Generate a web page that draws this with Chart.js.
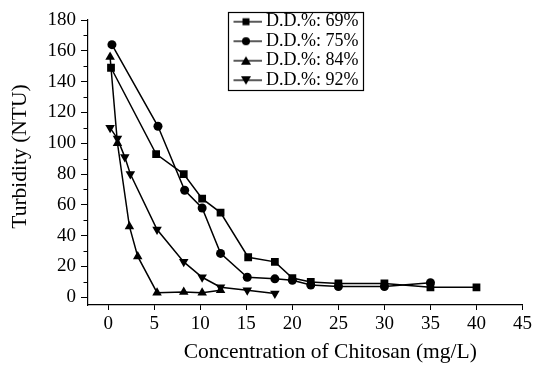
<!DOCTYPE html>
<html>
<head>
<meta charset="utf-8">
<script src="https://cdn.jsdelivr.net/npm/chart.js@4/dist/chart.umd.min.js"></script>
<style>
html,body{margin:0;padding:0;background:#fff;}
#wrap{width:535px;height:368px;}
</style>
</head>
<body>
<div id="wrap"><canvas id="c" width="535" height="368"></canvas></div>
<script>
// ---- data ----
const seriesLabels = ['D.D.%: 69%', 'D.D.%: 75%', 'D.D.%: 84%', 'D.D.%: 92%'];
const x69 = [0.3, 5.2, 8.2, 10.2, 12.2, 15.2, 18.1, 20, 22, 25, 30, 35, 40];
const y69 = [149, 93, 80, 64, 55, 26, 23, 12.5, 10, 9, 9, 6.5, 6.5];
const x75 = [0.4, 5.4, 8.3, 10.2, 12.2, 15.1, 18.1, 20, 22, 25, 30, 35];
const y75 = [164, 111, 69.5, 58, 28.5, 13, 12, 11, 8, 7, 7, 9.5];
const x84 = [0.2, 1, 2.3, 3.2, 5.3, 8.2, 10.2, 12.2];
const y84 = [156, 100, 46, 26.5, 3, 3.5, 3, 4.5];
const x92 = [0.2, 1, 1.8, 2.4, 5.3, 8.2, 10.2, 12.2, 15.1, 18.1];
const y92 = [110, 103, 91, 80, 44, 23, 13, 6.5, 4.5, 2.5];
const xTicks = [0, 5, 10, 15, 20, 25, 30, 35, 40, 45];
const yTicks = [0, 20, 40, 60, 80, 100, 120, 140, 160, 180];
const yMinorTicks = [10, 30, 50, 70, 90, 110, 130, 150, 170];
const xTitle = 'Concentration of Chitosan (mg/L)';
const yTitle = 'Turbidity (NTU)';

const pts = (xs, ys) => xs.map((x, i) => ({x: x, y: ys[i]}));
const FONT = '"Liberation Serif", "Times New Roman", serif';

// legend icons: line - marker - line
function makeIcon(kind) {
  const c = document.createElement('canvas');
  c.width = 32; c.height = 12;
  const g = c.getContext('2d');
  g.strokeStyle = '#000'; g.fillStyle = '#000'; g.lineWidth = 1.3;
  g.beginPath(); g.moveTo(0, 6); g.lineTo(32, 6); g.stroke();
  g.beginPath();
  if (kind === 'rect') { g.rect(12.5, 2.5, 7, 7); }
  else if (kind === 'circle') { g.arc(16, 6, 4, 0, Math.PI * 2); }
  else if (kind === 'up') { g.moveTo(16, 1.5); g.lineTo(21, 10); g.lineTo(11, 10); g.closePath(); }
  else { g.moveTo(11, 2); g.lineTo(21, 2); g.lineTo(16, 10.5); g.closePath(); }
  g.fill();
  return c;
}
const legendIcons = [makeIcon('rect'), makeIcon('circle'), makeIcon('up'), makeIcon('down')];

// shift an axis title without moving the scale itself
function shiftTitle(scale, dx, dy) {
  if (scale.__shifted) return;
  scale.__shifted = true;
  const orig = scale.drawTitle;
  scale.drawTitle = function () {
    this.left += dx; this.right += dx; this.top += dy; this.bottom += dy;
    orig.call(this);
    this.left -= dx; this.right -= dx; this.top -= dy; this.bottom -= dy;
  };
}

const extras = {
  id: 'extras',
  afterLayout(chart) {
    const lg = chart.legend;
    if (lg) {
      lg.left = 233.5; lg.top = 11.25; lg.right = 365; lg.bottom = 92;
      lg.width = lg.right - lg.left; lg.height = lg.bottom - lg.top;
    }
    shiftTitle(chart.scales.x, 25, 0);
    shiftTitle(chart.scales.y, 0, -6);
  },
  afterDraw(chart) {
    const ctx = chart.ctx;
    const ys = chart.scales.y;
    ctx.save();
    ctx.strokeStyle = '#000';
    ctx.lineWidth = 1;
    for (const v of yMinorTicks) {
      const py = Math.round(ys.getPixelForValue(v)) + 0.5;
      ctx.beginPath(); ctx.moveTo(ys.right - 4.5, py); ctx.lineTo(ys.right, py); ctx.stroke();
    }
    ctx.lineWidth = 1.2;
    ctx.strokeRect(228.5, 12.5, 135, 78);
    ctx.restore();
  }
};

const common = {borderColor: '#000', backgroundColor: '#000', borderWidth: 1.5, pointBackgroundColor: '#000', pointBorderColor: '#000', pointBorderWidth: 0, showLine: true, tension: 0};

new Chart(document.getElementById('c'), {
  type: 'scatter',
  data: {
    datasets: [
      Object.assign({label: seriesLabels[0], data: pts(x69, y69), pointStyle: 'rect', pointRadius: 5.5}, common),
      Object.assign({label: seriesLabels[1], data: pts(x75, y75), pointStyle: 'circle', pointRadius: 4.5}, common),
      Object.assign({label: seriesLabels[2], data: pts(x84, y84), pointStyle: 'triangle', pointRadius: 5.5}, common),
      Object.assign({label: seriesLabels[3], data: pts(x92, y92), pointStyle: 'triangle', pointRotation: 180, pointRadius: 5.5}, common)
    ]
  },
  options: {
    responsive: false,
    animation: false,
    devicePixelRatio: 1,
    layout: {padding: {left: 0, right: 12, top: 20, bottom: 0}},
    plugins: {
      tooltip: {enabled: false},
      legend: {
        display: true,
        position: 'chartArea',
        align: 'start',
        labels: {
          usePointStyle: true,
          pointStyleWidth: 22,
          padding: 1.5,
          color: '#000',
          font: {family: FONT, size: 18},
          generateLabels: (chart) => chart.data.datasets.map((ds, i) => ({
            text: ds.label, pointStyle: legendIcons[i], rotation: 0,
            fillStyle: '#000', strokeStyle: '#000', lineWidth: 0, hidden: false,
            datasetIndex: i, fontColor: '#000'
          }))
        }
      }
    },
    scales: {
      x: {
        type: 'linear', min: -2.2, max: 45,
        afterBuildTicks: (s) => { s.ticks = xTicks.map(v => ({value: v})); },
        afterFit: (s) => { s.height = 63; },
        grid: {display: true, drawOnChartArea: false, drawTicks: true, tickLength: 5, color: '#000', tickWidth: 1},
        border: {display: true, color: '#000', width: 1.2},
        ticks: {color: '#000', font: {family: FONT, size: 19}, padding: 3, autoSkip: false, maxRotation: 0},
        title: {display: true, text: xTitle, color: '#000', font: {family: FONT, size: 21.5}, padding: {top: 0, bottom: 3}}
      },
      y: {
        type: 'linear', min: -5, max: 180,
        afterBuildTicks: (s) => { s.ticks = yTicks.map(v => ({value: v})); },
        afterFit: (s) => { s.width = 88; },
        grid: {display: true, drawOnChartArea: false, drawTicks: true, tickLength: 7, color: '#000', tickWidth: 1},
        border: {display: true, color: '#000', width: 1.2},
        ticks: {color: '#000', font: {family: FONT, size: 19}, padding: 5},
        title: {display: true, text: yTitle, color: '#000', font: {family: FONT, size: 21.5}, padding: {top: 7, bottom: 0}}
      }
    }
  },
  plugins: [extras]
});
</script>
</body>
</html>
